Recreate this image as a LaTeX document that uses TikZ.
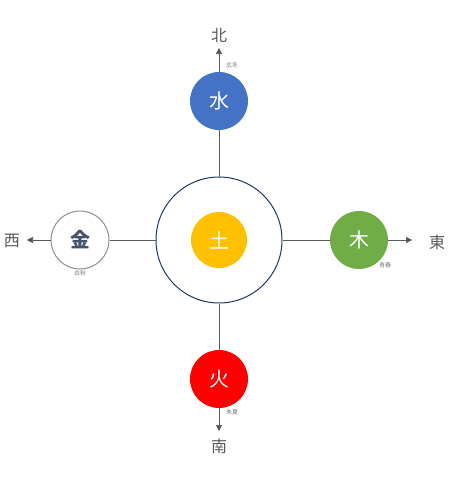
\documentclass[tikz,border=0pt]{standalone}
\usepackage{fontspec}
\setmainfont{Noto Sans CJK JP}
\usetikzlibrary{arrows.meta}
\definecolor{cwater}{HTML}{4472C4}
\definecolor{cfire}{HTML}{FF0000}
\definecolor{cwood}{HTML}{70AD47}
\definecolor{cearth}{HTML}{FFC000}
\definecolor{cmetal}{HTML}{8C8C8C}
\definecolor{cnavy}{HTML}{1F3864}
\definecolor{cdark}{HTML}{44546A}
\definecolor{cline}{HTML}{595959}
\definecolor{ctext}{HTML}{595959}
\begin{document}
\begin{tikzpicture}[x=1pt,y=-1pt,
  elem/.style={circle,minimum size=58pt,inner sep=0pt,text=white,font=\fontsize{20}{20}\selectfont},
  dir/.style={text=ctext,font=\fontsize{16}{16}\selectfont},
  small/.style={text=ctext!80,font=\fontsize{6}{6}\selectfont},
  link/.style={draw=cline,line width=0.6pt},
  arr/.style={draw=cline,line width=0.6pt,-{Triangle[length=6pt,width=6pt,fill=cdark]}}]
\useasboundingbox (0,0) rectangle (468,479);
\node[circle,draw=cnavy,line width=1pt,minimum size=126pt,inner sep=0pt] (big) at (219,240) {};
\node[elem,fill=cearth,minimum size=56pt] (earth) at (219,240) {土};
\node[elem,fill=cwater] (water) at (219,101) {水};
\node[elem,fill=cfire] (fire) at (219,379) {火};
\node[elem,fill=cwood] (wood) at (359,240) {木};
\node[elem,fill=white,draw=cmetal,line width=1pt,text=cdark,font=\fontsize{20}{20}\selectfont\bfseries] (metal) at (80,240) {金};
\coordinate (n) at (219,48);
\coordinate (s) at (219,431);
\coordinate (e) at (412,240);
\coordinate (w) at (27,240);
\draw[link] (big.north) -- (water.south);
\draw[link] (big.south) -- (fire.north);
\draw[link] (big.east) -- (wood.west);
\draw[link] (big.west) -- (metal.east);
\draw[arr] (water.north) -- (n);
\draw[arr] (fire.south) -- (s);
\draw[arr] (wood.east) -- (e);
\draw[arr] (metal.west) -- (w);
\node[dir] (tn) at (219,35) {北};
\node[dir] (ts) at (219,446) {南};
\node[dir] (te) at (437,242) {東};
\node[dir] (tw) at (12,241) {西};
\node[small] (ln) at (232,65) {玄冬};
\node[small] (ls) at (232,412) {朱夏};
\node[small] (le) at (385,265) {青春};
\node[small] (lw) at (80,273) {白秋};
\end{tikzpicture}
\end{document}
